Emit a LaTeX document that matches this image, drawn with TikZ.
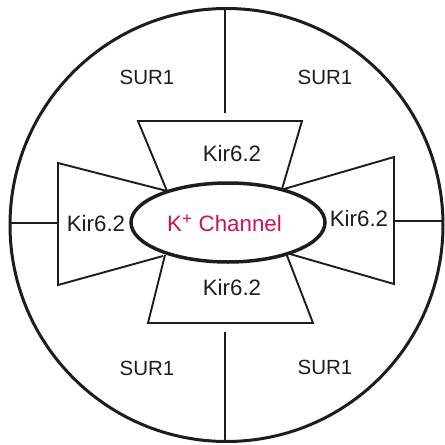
\documentclass[tikz,border=0pt]{standalone}
\usepackage{fontspec}
\setmainfont{Liberation Sans}
\usetikzlibrary{shapes.geometric}
\definecolor{chan}{RGB}{200,20,90}
\definecolor{ink}{RGB}{30,28,28}
\begin{document}
\begin{tikzpicture}[x=1pt,y=-1pt,
  part/.style={draw=ink,line width=1.9pt,line join=miter},
  lbl/.style={font=\fontsize{20.5}{24}\selectfont,text=ink,inner sep=0pt},
  klbl/.style={font=\fontsize{22.3}{26}\selectfont,text=ink,inner sep=0pt},
]
\useasboundingbox (0,0) rectangle (445,445);
% outer circle
\draw[draw=ink,line width=3pt] (226.5,225) circle[radius=216.5];
% dividers
\coordinate (ct) at (225,8.5);
\coordinate (cb) at (225,441.5);
\coordinate (cl) at (10,223);
\coordinate (cr) at (443,221);
\draw[part] (ct) -- (225,113);
\draw[part] (225,332) -- (cb);
\draw[part] (cl) -- (58,223);
\draw[part] (394,221) -- (cr);
% Kir6.2 trapezoids
\draw[part] (167,191) -- (138,121) -- (302,121) -- (282,189);
\draw[part] (165,255) -- (148,323) -- (313,323) -- (286,253);
\draw[part] (167,191) -- (58,163) -- (58,285) -- (163,256);
\draw[part] (284,189) -- (394,157) -- (394,284) -- (290,254);
% channel
\node[draw=ink,fill=white,line width=3.5pt,ellipse,minimum width=194pt,minimum height=79pt,inner sep=0pt] (ch) at (228,222.5) {};
\node[klbl,text=chan] (cht) at (224.5,223) {K\textsuperscript{\fontsize{17}{17}\selectfont +} Channel};
% labels
\node[lbl] (s1) at (147,77) {SUR1};
\node[lbl] (s2) at (325,77) {SUR1};
\node[lbl] (s3) at (147,368) {SUR1};
\node[lbl] (s4) at (325,367) {SUR1};
\node[klbl] (k1) at (232,154) {Kir6.2};
\node[klbl] (k2) at (232,288) {Kir6.2};
\node[klbl] (k3) at (96,224) {Kir6.2};
\node[klbl] (k4) at (359,219) {Kir6.2};
\end{tikzpicture}
\end{document}
